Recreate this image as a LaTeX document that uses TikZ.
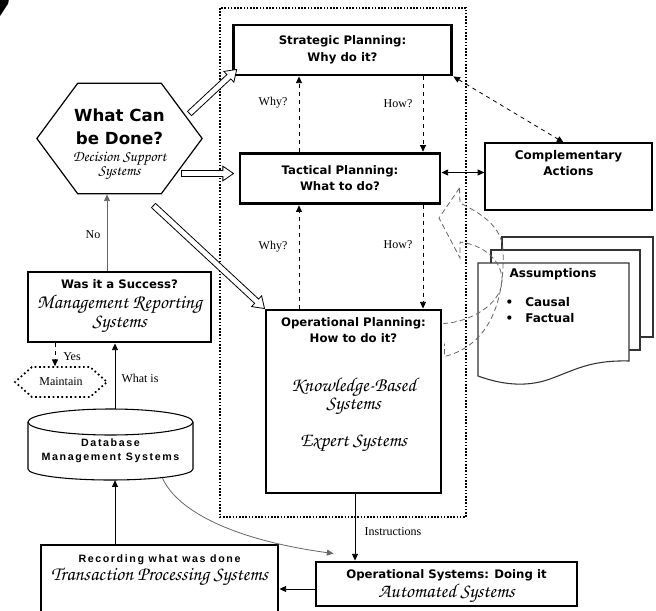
\documentclass[tikz,border=0pt]{standalone}
\usepackage{fontspec}
\setmainfont{Liberation Serif}
\newfontfamily\headfont{DejaVu Sans}
\newfontfamily\spacedfont{Liberation Sans}[LetterSpace=15]
\newfontfamily\handfont{TeX Gyre Chorus}
\usetikzlibrary{
	arrows.meta,
	positioning,
	calc,
	shapes.symbols
}

\begin{document}
\begin{tikzpicture}[x=0.75pt, y=-0.75pt,
		bigbox/.style={
			rectangle, draw, line width=2.2pt, inner sep=0pt
		},
		thinbox/.style={
			rectangle, draw, line width=0.9pt, inner sep=0pt
		},
		hexbox/.style={
			signal, signal to=east and west, draw, inner sep=0pt
		},
		headtxt/.style={
			font=\headfont\bfseries\fontsize{8.8}{13}\selectfont, align=center, inner sep=1pt
		},
		handtxt/.style={
			font=\handfont\fontsize{14.8}{14}\selectfont, align=center, inner sep=1pt
		},
		spacetxt/.style={
			font=\spacedfont\bfseries\fontsize{8}{10.5}\selectfont, align=center, inner sep=1pt
		},
		lbl/.style={font=\fontsize{9}{10}\selectfont, inner sep=1pt},
		arrow/.style={line width=0.6pt, -{Triangle[length=5pt,width=4.5pt]}},
		dasharrow/.style={arrow, dashed},
		curvedash/.style={gray!80!black, line width=0.6pt, dash pattern=on 4pt off 2.5pt},
		planframe/.style={line width=1.5pt, dash pattern=on 1.2pt off 1.2pt},
		pagebox/.style={draw=black!80, line width=0.8pt, fill=white},
		hollow/.style={draw, fill=white, line width=0.6pt, to path={
			let \p1=(\tikztostart), \p2=(\tikztotarget),
			\n1={atan2(\y2-\y1,\x2-\x1)}, \n2={veclen(\x2-\x1,\y2-\y1)-8pt} in
			($(\p1)+(\n1+90:2.2pt)$) -- ($(\p1)+(\n1:\n2)+(\n1+90:2.2pt)$)
			-- ($(\p1)+(\n1:\n2)+(\n1+90:5.5pt)$) -- (\p2)
			-- ($(\p1)+(\n1:\n2)+(\n1-90:5.5pt)$) -- ($(\p1)+(\n1:\n2)+(\n1-90:2.2pt)$)
			-- ($(\p1)+(\n1-90:2.2pt)$) -- cycle}},
	]
	\useasboundingbox (0,0) rectangle (656,610);
	
	\node[font=\headfont\bfseries\itshape\fontsize{28}{28}\selectfont, anchor=north east, inner sep=0pt] (fignum) at (10,0) {7};
	
	%planning frame
	\draw[planframe] (220,8) rectangle (466,517);
	
	%planning levels
	\node[bigbox, headtxt, minimum width=164pt, minimum height=37.5pt] (strat) at (342.5,50) {Strategic Planning:\\Why do it?};
	\node[bigbox, headtxt, font=\headfont\bfseries\fontsize{8.8}{12}\selectfont, minimum width=150pt, minimum height=38pt] (tact) at (340,178.5) {Tactical Planning:\\What to do?};
	\node[bigbox, minimum width=131.25pt, minimum height=137.25pt] (oper) at (353.5,401.5) {};
	\node[headtxt, font=\headfont\bfseries\fontsize{8.8}{12.5}\selectfont] (operhead) at ($(oper.north)+(0,21.5)$) {Operational Planning:\\How to do it?};
	\node[handtxt, font=\handfont\fontsize{14.8}{12}\selectfont] (operkbs) at ($(oper.north)+(0,88)$) {Knowledge-Based\\Systems};
	\node[handtxt] (operes) at ($(oper.north)+(0,135)$) {Expert Systems};
	
	\coordinate (whyx) at (299,0);
	\coordinate (howx) at (423,0);
	\draw[dasharrow] (tact.north -| whyx) -- (strat.south -| whyx);
	\draw[dasharrow] (strat.south -| howx) -- (tact.north -| howx);
	\draw[dasharrow] (oper.north -| whyx) -- (tact.south -| whyx);
	\draw[dasharrow] (tact.south -| howx) -- (oper.north -| howx);
	\node[lbl] (whyup) at (273,103) {Why?};
	\node[lbl] (howup) at (398,104) {How?};
	\node[lbl] (whylow) at (273,247) {Why?};
	\node[lbl] (howlow) at (398,245) {How?};
	
	%complementary actions
	\node[thinbox, minimum width=125.25pt, minimum height=50.25pt] (compl) at (568.5,176.5) {};
	\node[headtxt, font=\headfont\bfseries\fontsize{9}{12}\selectfont] (compltxt) at ($(compl.north)+(0,20.5)$) {Complementary\\Actions};
	\draw[dasharrow, {Triangle[length=5pt,width=4.5pt]}-{Triangle[length=5pt,width=4.5pt]}] (strat.south east) -- ($(compl.north)+(-5,0)$);
	\coordinate (tactout) at ($(tact.east)+(0,-6)$);
	\draw[arrow, {Triangle[length=5pt,width=4.5pt]}-{Triangle[length=5pt,width=4.5pt]}] (tactout) -- (tactout -| compl.west);
	
	%assumptions
	\draw[pagebox] (502,237) rectangle (653,337);
	\draw[pagebox] (491,250) rectangle (640,350);
	\draw[pagebox] (478,263) -- (629,263) -- (629,361) .. controls (590,360) and (575,370) .. (550,379) .. controls (525,388) and (500,384) .. (478,376) -- cycle;
	\node[headtxt, font=\headfont\bfseries\fontsize{9}{11}\selectfont, anchor=west] (assum) at (508,274) {Assumptions};
	\node[headtxt, font=\headfont\bfseries\fontsize{9}{11}\selectfont, anchor=west] (causal) at (504,302) {\textbullet\hspace{9pt}Causal};
	\node[headtxt, font=\headfont\bfseries\fontsize{9}{11}\selectfont, anchor=west] (factual) at (504,318) {\textbullet\hspace{9pt}Factual};
	
	\coordinate (split) at ($(tact.east)+(18,9.5)$);
	\draw[curvedash] (split) -- (439,218) -- (460,258) -- (460,242) .. controls (485,245) and (503,262) .. (502,282) .. controls (500,305) and (470,322) .. ($(oper.north east)+(1,15)$);
	\draw[curvedash] (split) -- (460,203) .. controls (478,212) and (502,225) .. (503,250) .. controls (505,300) and (490,345) .. ($(oper.north east)+(2,48)$) -- ($(oper.north east)+(2,35)$);
	
	%decision support
	\node[hexbox, signal pointer angle=107, line width=0.9pt, minimum width=124pt, minimum height=83pt] (hex) at (119.5,138.5) {};
	\node[headtxt, font=\headfont\bfseries\fontsize{12.5}{17}\selectfont, inner sep=0pt] (hexhead) at ($(hex.center)+(0,-12)$) {What Can\\be Done?};
	\node[handtxt, font=\handfont\fontsize{11.5}{9}\selectfont, inner sep=0pt] (hexdss) at ($(hex.center)+(0,27)$) {Decision Support\\Systems};
	
	\coordinate (hexout1) at ($(hex.center)+(70,-25)$);
	\coordinate (stratin) at ($(strat.south west)+(5,-7)$);
	\coordinate (hexout2) at ($(hex.center)+(62,35)$);
	\coordinate (tactin) at ($(tact.west)+(-5,-5)$);
	\coordinate (hexout3) at ($(hex.center)+(34,67)$);
	\draw[hollow] (hexout1) to (stratin);
	\draw[hollow] (hexout2) to (tactin);
	\draw[hollow] (hexout3) to (oper.north west);
	
	%reporting
	\node[bigbox, minimum width=137.25pt, minimum height=52.5pt] (succ) at (119.5,307) {};
	\node[headtxt] (succhead) at ($(succ.north)+(0,14)$) {Was it a Success?};
	\node[handtxt] (succmrs) at ($(succ.north)+(0,43)$) {Management Reporting\\Systems};
	\coordinate (nox) at (107,0);
	\draw[arrow, gray!80!black] (succ.north -| nox) -- (hex.south -| nox);
	\node[lbl] (nolbl) at (93,235) {No};
	
	\node[hexbox, signal pointer angle=83, dotted, line width=1.3pt, minimum width=69pt, minimum height=22.5pt, lbl] (maint) at (61,382) {Maintain};
	\coordinate (yesx) at (55,0);
	\draw[dasharrow] (succ.south -| yesx) -- (maint.north -| yesx);
	\node[lbl] (yeslbl) at (72,357) {Yes};
	
	%database
	\node[minimum width=123.75pt, minimum height=53.25pt, inner sep=0pt] (db) at (110.5,444.5) {};
	\draw[line width=0.8pt] (110.5,422) ellipse [x radius=82.5, y radius=13];
	\draw[line width=0.8pt] (28,422) -- (28,469) arc[start angle=180, end angle=0, x radius=82.5, y radius=11] -- (193,422);
	\node[spacetxt] (dbtxt) at ($(db.center)+(0,6.5)$) {Database\\Management Systems};
	\coordinate (wisx) at (115,0);
	\draw[arrow] (db.north -| wisx) -- (succ.south -| wisx);
	\node[lbl] (whatis) at (140,378) {What is};
	
	%transactions
	\node[bigbox, minimum width=177.75pt, minimum height=63.75pt] (rec) at (159.5,587.5) {};
	\node[spacetxt] (rechead) at ($(rec.north)+(0,16)$) {Recording what was done};
	\node[handtxt] (rectps) at ($(rec.north)+(0,33)$) {Transaction Processing Systems};
	\draw[arrow] (rec.north -| wisx) -- (db.south -| wisx);
	
	%operational systems
	\node[bigbox, minimum width=195.75pt, minimum height=33pt] (opsys) at (446.5,584) {};
	\node[headtxt] (opshead) at ($(opsys.north)+(0,14.5)$) {Operational Systems: Doing it};
	\node[handtxt] (opsauto) at ($(opsys.north)+(0,32.5)$) {Automated Systems};
	\coordinate (insx) at (355,0);
	\draw[arrow] (oper.south -| insx) -- (opsys.north -| insx);
	\node[lbl, anchor=west] (instr) at (363,532) {Instructions};
	\coordinate (opsin) at ($(opsys.north west)+(19,-7)$);
	\draw[arrow, gray!80!black] ($(db.south)+(52,-2)$) .. controls (178,512) and (235,540) .. (opsin);
	\coordinate (opsout) at ($(opsys.west)+(0,5)$);
	\draw[arrow] (opsout) -- (opsout -| rec.east);
\end{tikzpicture}
\end{document}
